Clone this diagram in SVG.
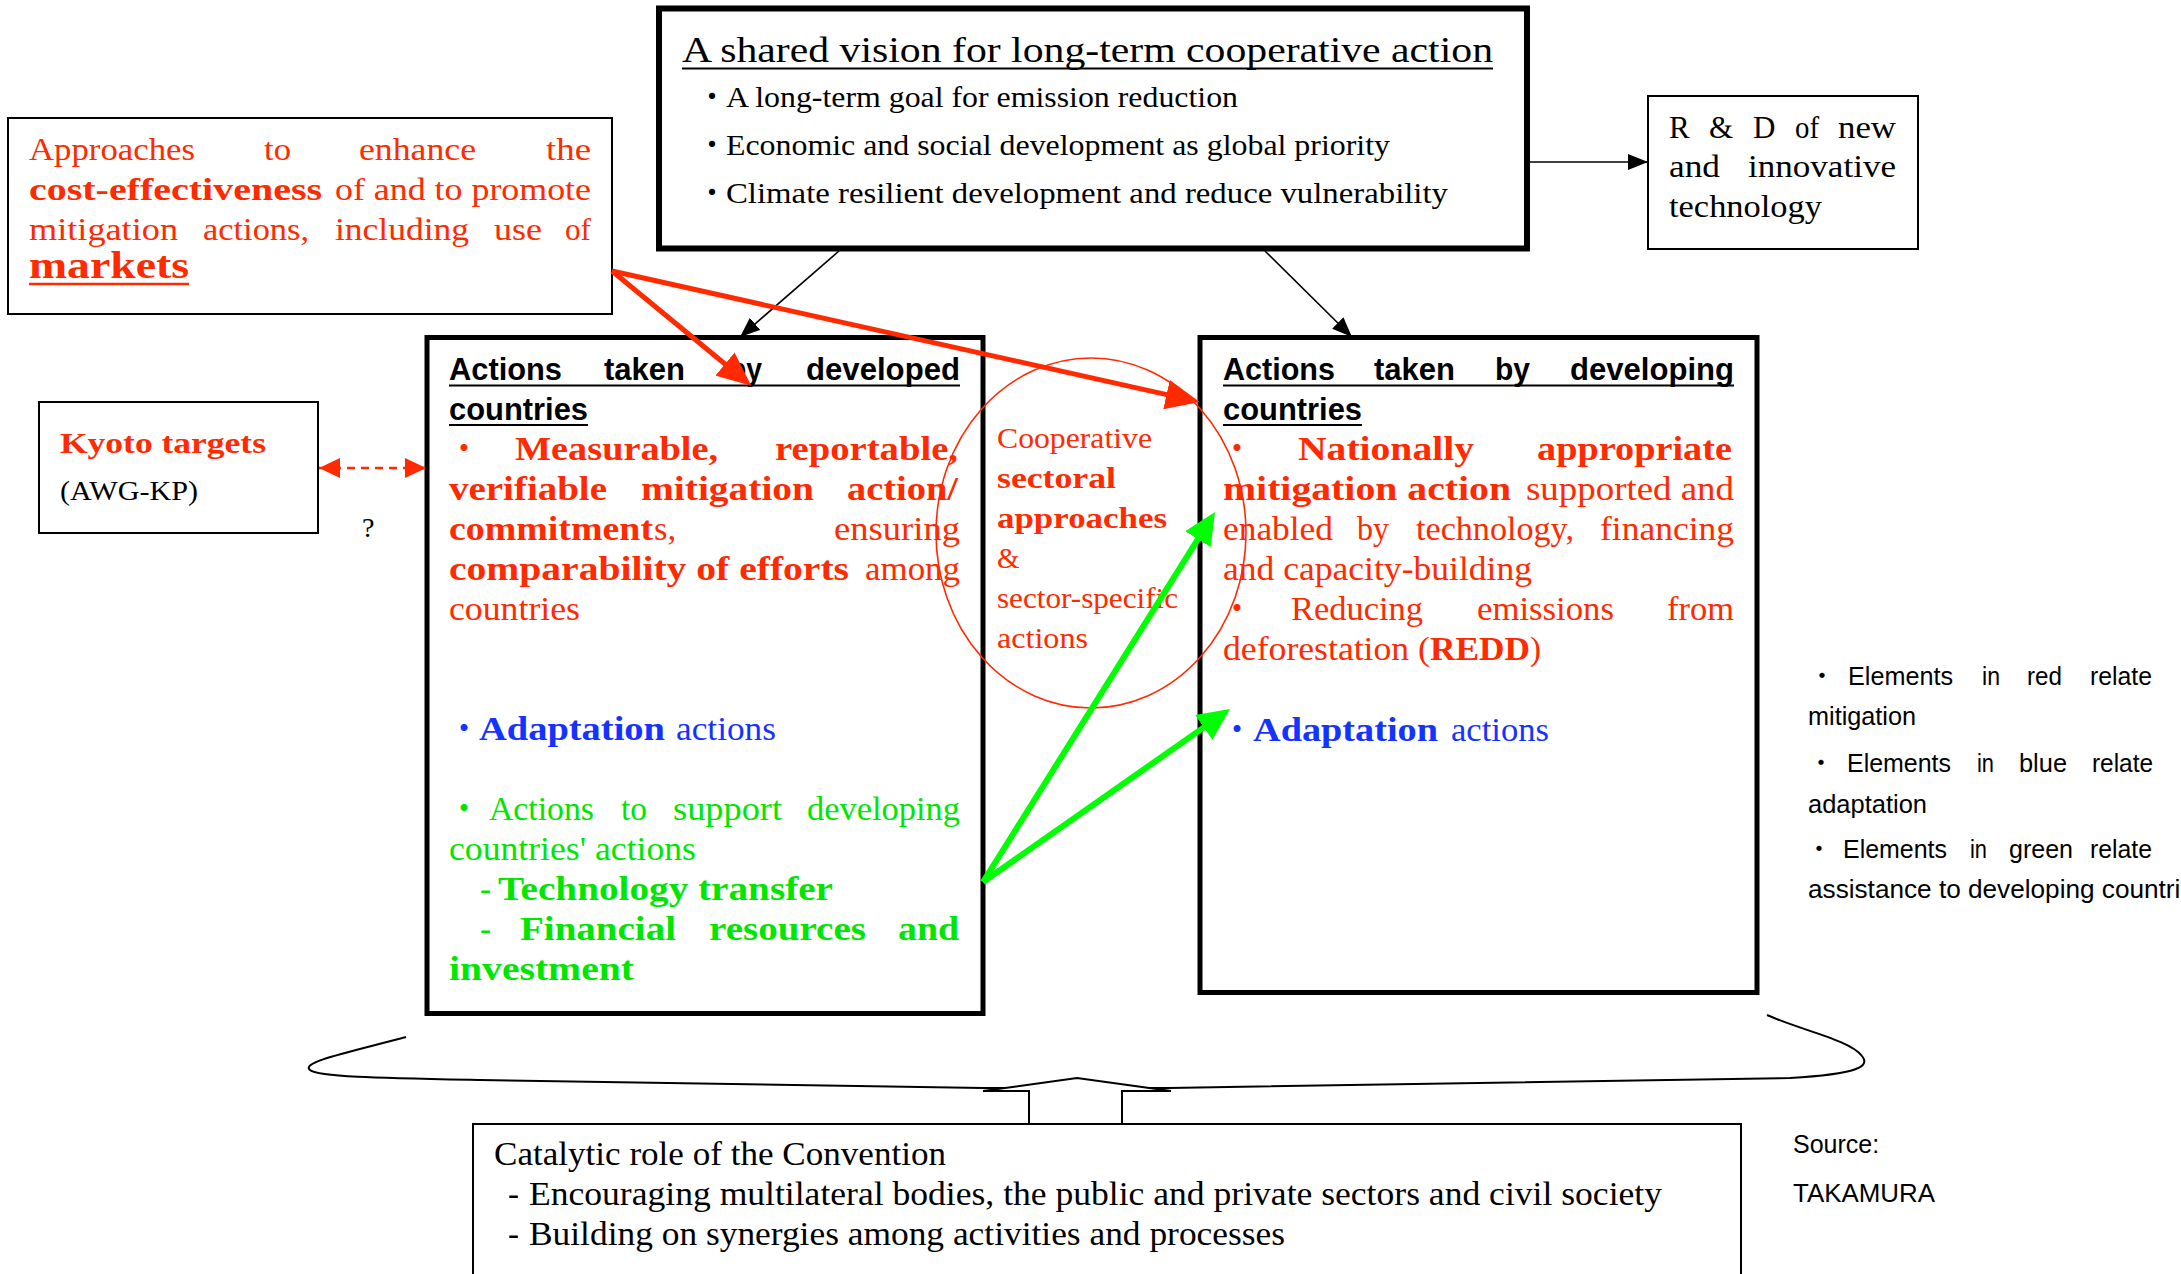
<svg xmlns="http://www.w3.org/2000/svg" width="2181" height="1274" viewBox="0 0 2181 1274">
<style>
  .sf { font-family: "Liberation Serif", "Times New Roman", serif; }
  .ss { font-family: "Liberation Sans", Arial, sans-serif; }
  .jp { font-family: "Noto Sans CJK JP", "Liberation Sans", sans-serif; text-anchor: middle; }
  .bd { font-weight: bold; }
  .red { fill: #ff2a00; }
  .blu { fill: #1433ff; }
  .grn { fill: #00e600; }
  .blk { fill: #000; }
  .box { fill: #fff; stroke: #000; }
  .ul { stroke: #000; stroke-width: 2; }
</style>
<defs>
  <marker id="ah-k" markerUnits="userSpaceOnUse" markerWidth="20" markerHeight="16" viewBox="0 0 20 16" refX="20" refY="8" orient="auto">
    <path d="M0,0 L20,8 L0,16 z" fill="#000"/>
  </marker>
  <marker id="ah-r" markerUnits="userSpaceOnUse" markerWidth="34" markerHeight="30" viewBox="0 0 34 30" refX="22" refY="15" orient="auto">
    <path d="M0,0 L34,15 L0,30 z" fill="#ff2a00"/>
  </marker>
  <marker id="ah-g" markerUnits="userSpaceOnUse" markerWidth="32" markerHeight="30" viewBox="0 0 32 30" refX="20" refY="15" orient="auto">
    <path d="M0,0 L32,15 L0,30 z" fill="#00ff00"/>
  </marker>
  <marker id="ah-rd" markerUnits="userSpaceOnUse" markerWidth="21" markerHeight="20" viewBox="0 0 21 20" refX="21" refY="10" orient="auto-start-reverse">
    <path d="M0,0 L21,10 L0,20 z" fill="#ff2a00"/>
  </marker>
</defs>
<rect width="2181" height="1274" fill="#fff"/>

<!-- Shared vision -->
<g id="vision">
  <rect class="box" x="659" y="8.5" width="868" height="240" stroke-width="6"/>
  <text class="sf blk" font-size="36" x="682" y="62" textLength="811" lengthAdjust="spacingAndGlyphs">A shared vision for long-term cooperative action</text>
  <line class="ul" x1="682" y1="68.5" x2="1493" y2="68.5"/>
  <g font-size="29">
    <text class="jp" x="712" y="107">・</text>
    <text class="sf blk" x="726" y="107" textLength="512" lengthAdjust="spacingAndGlyphs">A long-term goal for emission reduction</text>
    <text class="jp" x="712" y="155">・</text>
    <text class="sf blk" x="726" y="155" textLength="664" lengthAdjust="spacingAndGlyphs">Economic and social development as global priority</text>
    <text class="jp" x="712" y="203">・</text>
    <text class="sf blk" x="726" y="203" textLength="722" lengthAdjust="spacingAndGlyphs">Climate resilient development and reduce vulnerability</text>
  </g>
</g>

<!-- Market approaches -->
<g id="markets">
  <rect class="box" x="8" y="118" width="604" height="196" stroke-width="2"/>
  <g class="sf red" font-size="32">
    <text x="29" y="160" textLength="166" lengthAdjust="spacingAndGlyphs">Approaches</text>
    <text x="264" y="160" textLength="27" lengthAdjust="spacingAndGlyphs">to</text>
    <text x="359" y="160" textLength="117" lengthAdjust="spacingAndGlyphs">enhance</text>
    <text x="546" y="160" textLength="45" lengthAdjust="spacingAndGlyphs">the</text>
    <text class="bd" x="29" y="200" textLength="293" lengthAdjust="spacingAndGlyphs">cost-effectiveness</text>
    <text x="335" y="200" textLength="256" lengthAdjust="spacingAndGlyphs">of and to promote</text>
    <text x="29" y="240" textLength="149" lengthAdjust="spacingAndGlyphs">mitigation</text>
    <text x="203" y="240" textLength="106" lengthAdjust="spacingAndGlyphs">actions,</text>
    <text x="335" y="240" textLength="134" lengthAdjust="spacingAndGlyphs">including</text>
    <text x="494" y="240" textLength="48" lengthAdjust="spacingAndGlyphs">use</text>
    <text x="565" y="240" textLength="26" lengthAdjust="spacingAndGlyphs">of</text>
    <text class="bd" x="29" y="278" font-size="38" textLength="160" lengthAdjust="spacingAndGlyphs">markets</text>
  </g>
  <line x1="29" y1="284" x2="189" y2="284" stroke="#ff2a00" stroke-width="2.5"/>
</g>

<!-- R&D -->
<g id="rnd">
  <rect class="box" x="1648" y="96" width="270" height="153" stroke-width="2"/>
  <g class="sf blk" font-size="31">
    <text x="1669" y="138">R</text>
    <text x="1709" y="138">&amp;</text>
    <text x="1753" y="138">D</text>
    <text x="1795" y="138" textLength="24" lengthAdjust="spacingAndGlyphs">of</text>
    <text x="1838" y="138" textLength="58" lengthAdjust="spacingAndGlyphs">new</text>
    <text x="1669" y="177" textLength="51" lengthAdjust="spacingAndGlyphs">and</text>
    <text x="1748" y="177" textLength="148" lengthAdjust="spacingAndGlyphs">innovative</text>
    <text x="1669" y="217" textLength="153" lengthAdjust="spacingAndGlyphs">technology</text>
  </g>
</g>

<!-- Kyoto targets -->
<g id="kyoto">
  <rect class="box" x="39" y="402" width="279" height="131" stroke-width="2"/>
  <text class="sf red bd" font-size="29" x="60" y="453" textLength="206" lengthAdjust="spacingAndGlyphs">Kyoto targets</text>
  <text class="sf blk" font-size="28" x="60" y="500" textLength="138" lengthAdjust="spacingAndGlyphs">(AWG-KP)</text>
</g>
<text id="query" class="sf blk" font-size="28" x="362" y="537">?</text>

<!-- Developed countries -->
<g id="developed">
  <rect class="box" x="427" y="337.5" width="556" height="676" stroke-width="5"/>
  <g class="ss bd blk" font-size="31">
    <text x="449" y="380" textLength="113" lengthAdjust="spacingAndGlyphs">Actions</text>
    <text x="604" y="380" textLength="81" lengthAdjust="spacingAndGlyphs">taken</text>
    <text x="729" y="380" textLength="33" lengthAdjust="spacingAndGlyphs">by</text>
    <text x="806" y="380" textLength="154" lengthAdjust="spacingAndGlyphs">developed</text>
    <text x="449" y="420" textLength="139" lengthAdjust="spacingAndGlyphs">countries</text>
  </g>
  <line class="ul" x1="449" y1="385.5" x2="960" y2="385.5"/>
  <line class="ul" x1="449" y1="425" x2="588" y2="425"/>
  <g class="sf red" font-size="33">
    <text class="jp" x="464" y="460">・</text>
    <text class="bd" x="515" y="460" textLength="203" lengthAdjust="spacingAndGlyphs">Measurable,</text>
    <text class="bd" x="775" y="460" textLength="183" lengthAdjust="spacingAndGlyphs">reportable,</text>
    <text class="bd" x="449" y="500" textLength="158" lengthAdjust="spacingAndGlyphs">verifiable</text>
    <text class="bd" x="641" y="500" textLength="173" lengthAdjust="spacingAndGlyphs">mitigation</text>
    <text class="bd" x="847" y="500" textLength="111" lengthAdjust="spacingAndGlyphs">action/</text>
    <text class="bd" x="449" y="540" textLength="204" lengthAdjust="spacingAndGlyphs">commitment</text>
    <text x="654" y="540" textLength="22" lengthAdjust="spacingAndGlyphs">s,</text>
    <text x="834" y="540" textLength="126" lengthAdjust="spacingAndGlyphs">ensuring</text>
    <text class="bd" x="449" y="580" textLength="400" lengthAdjust="spacingAndGlyphs">comparability of efforts</text>
    <text x="865" y="580" textLength="95" lengthAdjust="spacingAndGlyphs">among</text>
    <text x="449" y="620" textLength="131" lengthAdjust="spacingAndGlyphs">countries</text>
  </g>
  <g class="sf blu" font-size="33">
    <text class="jp" x="464" y="740">・</text>
    <text class="bd" x="479" y="740" textLength="186" lengthAdjust="spacingAndGlyphs">Adaptation</text>
    <text x="676" y="740" textLength="100" lengthAdjust="spacingAndGlyphs">actions</text>
  </g>
  <g class="sf grn" font-size="33">
    <text class="jp" x="464" y="820">・</text>
    <text x="489" y="820" textLength="105" lengthAdjust="spacingAndGlyphs">Actions</text>
    <text x="621" y="820" textLength="26" lengthAdjust="spacingAndGlyphs">to</text>
    <text x="673" y="820" textLength="109" lengthAdjust="spacingAndGlyphs">support</text>
    <text x="807" y="820" textLength="153" lengthAdjust="spacingAndGlyphs">developing</text>
    <text x="449" y="860" textLength="247" lengthAdjust="spacingAndGlyphs">countries' actions</text>
    <text x="480" y="900">-</text>
    <text class="bd" x="498" y="900" textLength="335" lengthAdjust="spacingAndGlyphs">Technology transfer</text>
    <text x="480" y="940">-</text>
    <text class="bd" x="520" y="940" textLength="156" lengthAdjust="spacingAndGlyphs">Financial</text>
    <text class="bd" x="709" y="940" textLength="157" lengthAdjust="spacingAndGlyphs">resources</text>
    <text class="bd" x="898" y="940" textLength="61" lengthAdjust="spacingAndGlyphs">and</text>
    <text class="bd" x="449" y="980" textLength="185" lengthAdjust="spacingAndGlyphs">investment</text>
  </g>
</g>

<!-- Developing countries -->
<g id="developing">
  <rect class="box" x="1200" y="337.5" width="557" height="655" stroke-width="5"/>
  <g class="ss bd blk" font-size="31">
    <text x="1223" y="380" textLength="112" lengthAdjust="spacingAndGlyphs">Actions</text>
    <text x="1374" y="380" textLength="81" lengthAdjust="spacingAndGlyphs">taken</text>
    <text x="1495" y="380" textLength="35" lengthAdjust="spacingAndGlyphs">by</text>
    <text x="1570" y="380" textLength="164" lengthAdjust="spacingAndGlyphs">developing</text>
    <text x="1223" y="420" textLength="139" lengthAdjust="spacingAndGlyphs">countries</text>
  </g>
  <line class="ul" x1="1223" y1="385.5" x2="1734" y2="385.5"/>
  <line class="ul" x1="1223" y1="425" x2="1362" y2="425"/>
  <g class="sf red" font-size="33">
    <text class="jp" x="1237" y="460">・</text>
    <text class="bd" x="1298" y="460" textLength="176" lengthAdjust="spacingAndGlyphs">Nationally</text>
    <text class="bd" x="1537" y="460" textLength="195" lengthAdjust="spacingAndGlyphs">appropriate</text>
    <text class="bd" x="1223" y="500" textLength="288" lengthAdjust="spacingAndGlyphs">mitigation action</text>
    <text x="1526" y="500" textLength="208" lengthAdjust="spacingAndGlyphs">supported and</text>
    <text x="1223" y="540" textLength="110" lengthAdjust="spacingAndGlyphs">enabled</text>
    <text x="1357" y="540" textLength="32" lengthAdjust="spacingAndGlyphs">by</text>
    <text x="1416" y="540" textLength="158" lengthAdjust="spacingAndGlyphs">technology,</text>
    <text x="1600" y="540" textLength="134" lengthAdjust="spacingAndGlyphs">financing</text>
    <text x="1223" y="580" textLength="309" lengthAdjust="spacingAndGlyphs">and capacity-building</text>
    <text class="jp" x="1237" y="620">・</text>
    <text x="1291" y="620" textLength="132" lengthAdjust="spacingAndGlyphs">Reducing</text>
    <text x="1477" y="620" textLength="137" lengthAdjust="spacingAndGlyphs">emissions</text>
    <text x="1667" y="620" textLength="67" lengthAdjust="spacingAndGlyphs">from</text>
    <text x="1223" y="660" textLength="207" lengthAdjust="spacingAndGlyphs">deforestation (</text>
    <text class="bd" x="1430" y="660" textLength="100" lengthAdjust="spacingAndGlyphs">REDD</text>
    <text x="1530" y="660">)</text>
  </g>
  <g class="sf blu" font-size="33">
    <text class="jp" x="1237" y="741">・</text>
    <text class="bd" x="1253" y="741" textLength="185" lengthAdjust="spacingAndGlyphs">Adaptation</text>
    <text x="1451" y="741" textLength="98" lengthAdjust="spacingAndGlyphs">actions</text>
  </g>
</g>

<!-- Cooperative sectoral approaches -->
<g id="sectoral">
  <ellipse cx="1091" cy="533" rx="155" ry="175" fill="none" stroke="#ff2a00" stroke-width="1.6"/>
  <g class="sf red" font-size="29">
    <text x="997" y="448" textLength="155" lengthAdjust="spacingAndGlyphs">Cooperative</text>
    <text class="bd" x="997" y="488" textLength="119" lengthAdjust="spacingAndGlyphs">sectoral</text>
    <text class="bd" x="997" y="528" textLength="170" lengthAdjust="spacingAndGlyphs">approaches</text>
    <text x="997" y="568">&amp;</text>
    <text x="997" y="608" textLength="181" lengthAdjust="spacingAndGlyphs">sector-specific</text>
    <text x="997" y="648" textLength="91" lengthAdjust="spacingAndGlyphs">actions</text>
  </g>
</g>

<!-- Colour key -->
<g id="legend" class="ss blk" font-size="25">
  <text class="jp" x="1822" y="685">・</text>
  <text x="1848" y="685" textLength="105" lengthAdjust="spacingAndGlyphs">Elements</text>
  <text x="1982" y="685" textLength="18" lengthAdjust="spacingAndGlyphs">in</text>
  <text x="2027" y="685" textLength="35" lengthAdjust="spacingAndGlyphs">red</text>
  <text x="2090" y="685" textLength="62" lengthAdjust="spacingAndGlyphs">relate</text>
  <text x="1808" y="725" textLength="108" lengthAdjust="spacingAndGlyphs">mitigation</text>
  <text class="jp" x="1821" y="772">・</text>
  <text x="1847" y="772" textLength="104" lengthAdjust="spacingAndGlyphs">Elements</text>
  <text x="1977" y="772" textLength="17" lengthAdjust="spacingAndGlyphs">in</text>
  <text x="2019" y="772" textLength="48" lengthAdjust="spacingAndGlyphs">blue</text>
  <text x="2092" y="772" textLength="61" lengthAdjust="spacingAndGlyphs">relate</text>
  <text x="1808" y="813" textLength="119" lengthAdjust="spacingAndGlyphs">adaptation</text>
  <text class="jp" x="1819" y="858">・</text>
  <text x="1843" y="858" textLength="104" lengthAdjust="spacingAndGlyphs">Elements</text>
  <text x="1970" y="858" textLength="17" lengthAdjust="spacingAndGlyphs">in</text>
  <text x="2009" y="858" textLength="64" lengthAdjust="spacingAndGlyphs">green</text>
  <text x="2090" y="858" textLength="62" lengthAdjust="spacingAndGlyphs">relate</text>
  <text x="1808" y="898" textLength="400" lengthAdjust="spacingAndGlyphs">assistance to developing countries</text>
</g>

<!-- Source note -->
<g id="source" class="ss blk" font-size="25">
  <text x="1793" y="1153">Source:</text>
  <text x="1793" y="1202" textLength="142" lengthAdjust="spacingAndGlyphs">TAKAMURA</text>
</g>

<!-- Catalytic role of the Convention -->
<g id="convention">
  <rect class="box" x="473" y="1124" width="1268" height="170" stroke-width="2"/>
  <g class="sf blk" font-size="33">
    <text x="494" y="1165" textLength="452" lengthAdjust="spacingAndGlyphs">Catalytic role of the Convention</text>
    <text x="508" y="1205">-</text>
    <text x="529" y="1205" textLength="1133" lengthAdjust="spacingAndGlyphs">Encouraging multilateral bodies, the public and private sectors and civil society</text>
    <text x="508" y="1245">-</text>
    <text x="529" y="1245" textLength="756" lengthAdjust="spacingAndGlyphs">Building on synergies among activities and processes</text>
  </g>
</g>

<!-- Brace grouping both kinds of action -->
<g id="brace">
  <path d="M406,1037 C350,1052 300,1062 310,1070 C318,1077 380,1078 480,1080 L983,1088 L1169,1088 L1790,1078 C1860,1074 1870,1066 1862,1056 C1850,1040 1800,1030 1767,1015" fill="none" stroke="#000" stroke-width="2"/>
</g>

<g id="connectors">
  <!-- vision to both boxes and to R&D -->
  <line x1="839" y1="251" x2="740" y2="337" stroke="#000" stroke-width="1.6" marker-end="url(#ah-k)"/>
  <line x1="1265" y1="251" x2="1352" y2="337" stroke="#000" stroke-width="1.6" marker-end="url(#ah-k)"/>
  <line x1="1527" y1="162" x2="1648" y2="162" stroke="#000" stroke-width="1.6" marker-end="url(#ah-k)"/>
  <!-- market approaches to both boxes -->
  <line x1="612" y1="271" x2="742" y2="378" stroke="#ff2a00" stroke-width="5" marker-end="url(#ah-r)"/>
  <line x1="612" y1="271" x2="1188" y2="399.4" stroke="#ff2a00" stroke-width="5" marker-end="url(#ah-r)"/>
  <!-- Kyoto link -->
  <line x1="319" y1="468" x2="426" y2="468" stroke="#ff2a00" stroke-width="2.5" stroke-dasharray="8 6" marker-start="url(#ah-rd)" marker-end="url(#ah-rd)"/>
  <!-- support flows -->
  <line x1="983" y1="882" x2="1208.6" y2="522.2" stroke="#00ff00" stroke-width="6" marker-end="url(#ah-g)"/>
  <line x1="983" y1="882" x2="1220.2" y2="715.9" stroke="#00ff00" stroke-width="6" marker-end="url(#ah-g)"/>
  <!-- block arrow from the Convention -->
  <polygon points="1029,1124 1029,1091 983,1091 1077,1078 1171,1091 1122,1091 1122,1124" fill="#fff" stroke="#000" stroke-width="2"/>
</g>
</svg>
